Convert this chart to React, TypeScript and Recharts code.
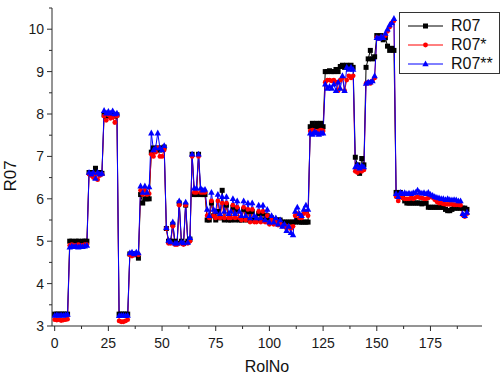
import { LineChart, Line, XAxis, YAxis } from "recharts";

// R07 (black squares)
const r07 = [
  3.28, 3.28, 3.28, 3.28, 3.28, 3.28, 3.28,
  5.0, 5.0, 4.98, 5.0, 5.0, 4.98, 5.0, 5.0, 5.0,
  6.62, 6.6, 6.62, 6.72, 6.6, 6.62, 6.6,
  7.98, 7.95, 8.0, 7.95, 7.98, 7.95, 7.98,
  3.28, 3.28, 3.28, 3.28, 3.28,
  4.7, 4.7, 4.7, 4.68, 4.6,
  6.1, 5.9, 6.0, 6.0, 6.0,
  7.1, 7.2, 7.15, 7.2, 7.15, 7.2, 7.22,
  5.3,
  5.0, 5.0, 5.4, 5.0, 4.95, 5.9, 5.0, 4.95, 5.85, 5.0, 5.05,
  7.05, 6.1, 6.1, 7.05, 6.1, 6.1, 6.1,
  5.5, 5.5, 5.9, 5.6, 5.5, 5.7, 5.55, 6.2, 5.5, 5.85,
  5.5, 5.5, 5.8, 5.5, 5.75, 5.5, 5.5, 5.75, 5.5, 5.7,
  5.5, 5.7, 5.5, 5.5, 5.65, 5.5, 5.65, 5.5, 5.6, 5.55,
  5.55, 5.5, 5.5, 5.5, 5.5, 5.45, 5.45, 5.45, 5.45, 5.45,
  5.45, 5.45, 5.5, 5.45, 5.45, 5.45, 5.45, 5.45,
  7.7, 7.78, 7.7, 7.78, 7.7, 7.78, 7.7,
  9.0, 9.0, 9.02, 9.0, 9.0, 9.05, 9.0, 9.12, 9.15, 9.1, 9.15, 9.12, 9.15, 9.1,
  6.98, 6.8, 6.6, 6.95, 6.8,
  9.1, 9.3, 9.5, 9.3, 9.35,
  9.85, 9.8, 9.85, 9.75, 9.8, 9.6, 9.5, 9.55, 9.5,
  6.15, 6.1, 6.15, 6.05, 5.95, 5.9, 5.9, 5.9, 5.9, 5.9,
  5.9, 5.9, 5.88, 5.9, 5.9, 5.8, 5.8, 5.8, 5.8, 5.8,
  5.8, 5.8, 5.8, 5.75, 5.72, 5.72, 5.75, 5.78, 5.78, 5.78,
  5.78, 5.78, 5.78, 5.75,
];

// R07* (red circles)
const r07s = [
  3.15, 3.14, 3.15, 3.13, 3.14, 3.15, 3.16,
  4.9, 4.92, 4.9, 4.9, 4.92, 4.9, 4.9, 4.92, 4.92,
  6.58, 6.55, 6.5, 6.58, 6.45, 6.55, 6.58,
  7.95, 7.85, 7.98, 7.9, 7.92, 7.8, 7.95,
  3.12, 3.1, 3.1, 3.12, 3.15,
  4.68, 4.65, 4.68, 4.7, 4.68,
  6.2, 6.1, 6.2, 6.1, 6.12,
  7.05, 7.0, 7.1, 7.2, 7.0, 7.0, 7.15,
  5.3,
  4.95, 4.95, 5.35, 4.92, 4.92, 5.85, 4.95, 4.92, 5.85, 4.95, 5.0,
  7.0, 6.15, 6.15, 7.0, 6.15, 6.15, 6.15,
  5.6, 5.55, 5.95, 5.6, 5.55, 5.95, 5.55, 5.9, 5.55, 5.9,
  5.55, 5.55, 5.85, 5.55, 5.8, 5.55, 5.5, 5.8, 5.5, 5.75,
  5.45, 5.75, 5.45, 5.45, 5.7, 5.45, 5.7, 5.45, 5.6, 5.4,
  5.5, 5.4, 5.45, 5.38, 5.42, 5.35, 5.38, 5.3, 5.35, 5.3,
  5.35, 5.6, 5.65, 5.55, 5.55, 5.65, 5.7, 5.6,
  7.6, 7.62, 7.6, 7.58, 7.6, 7.62, 7.6,
  8.75, 8.8, 8.8, 8.78, 8.8, 8.75, 8.55, 8.8, 8.85, 8.55, 8.8, 8.9, 8.85, 8.9,
  6.65, 6.62, 6.7, 6.65, 6.68,
  8.72, 8.75, 8.72, 8.78, 8.85,
  9.8, 9.78, 9.8, 9.82, 9.85, 9.95, 10.05, 10.15, 10.2,
  6.05, 5.95, 6.05, 6.02, 6.0, 6.0, 6.0, 6.02, 6.0, 6.03,
  6.05, 6.03, 6.02, 6.0, 6.0, 6.02, 6.05, 6.03, 5.98, 5.93,
  5.9, 5.9, 5.88, 5.87, 5.87, 5.87, 5.87, 5.86, 5.86, 5.86,
  5.85, 5.62, 5.58, 5.65,
];

// R07** (blue triangles)
const r07ss = [
  3.25, 3.26, 3.25, 3.26, 3.25, 3.26, 3.27,
  4.86, 4.88, 4.87, 4.88, 4.86, 4.88, 4.87, 4.88, 4.9,
  6.62, 6.58, 6.62, 6.48, 6.62, 6.58, 6.6,
  8.08, 8.02, 8.06, 8.02, 8.07, 8.0, 8.02,
  3.24, 3.25, 3.25, 3.24, 3.25,
  4.72, 4.74, 4.7, 4.74, 4.72,
  6.3, 6.15, 6.3, 6.15, 6.28,
  7.55, 7.15, 7.2, 7.55, 7.2, 7.15, 7.25,
  5.32,
  5.02, 4.98, 5.45, 4.95, 4.95, 5.95, 4.98, 4.96, 5.92, 4.97, 5.08,
  7.05, 6.25, 6.25, 7.05, 6.25, 6.2, 6.22,
  5.75, 5.6, 6.15, 5.75, 5.7, 6.1, 5.65, 6.05, 5.7, 6.05,
  5.65, 5.7, 6.0, 5.65, 5.95, 5.7, 5.6, 5.95, 5.6, 5.9,
  5.55, 5.9, 5.6, 5.55, 5.85, 5.55, 5.85, 5.5, 5.75, 5.45,
  5.6, 5.45, 5.55, 5.4, 5.5, 5.35, 5.4, 5.25, 5.35, 5.2,
  5.15, 5.7, 5.8, 5.65, 5.6, 5.75, 5.85, 5.75,
  7.55, 7.52, 7.58, 7.55, 7.52, 7.55, 7.55,
  8.7, 8.6, 8.65, 8.6, 8.7, 8.55, 8.75, 8.6, 8.9, 8.55, 9.1, 9.05, 9.1, 9.05,
  6.75, 6.8, 6.72, 6.78, 6.75,
  8.72, 8.75, 8.75, 8.78, 8.9,
  9.8, 9.78, 9.82, 9.8, 9.9, 10.0, 10.1, 10.15, 10.25,
  6.12, 6.05, 6.15, 6.12, 6.14, 6.12, 6.13, 6.12, 6.14, 6.15,
  6.2, 6.15, 6.13, 6.14, 6.12, 6.15, 6.1, 6.08, 6.05, 6.03,
  6.02, 6.0, 6.0, 5.98, 6.0, 5.98, 5.97, 5.98, 5.97, 5.95,
  5.95, 5.65, 5.6, 5.68,
];

const xTicks = [0, 12.5, 25, 37.5, 50, 62.5, 75, 87.5, 100, 112.5, 125, 137.5, 150, 162.5, 175, 187.5];
const yTicks = [3, 3.5, 4, 4.5, 5, 5.5, 6, 6.5, 7, 7.5, 8, 8.5, 9, 9.5, 10, 10.5];

const FONT = '"Liberation Sans", Arial, sans-serif';
const AXIS = "#2a2a2a";

const data = r07.map((v, i) => ({ x: i, r07: v, r07s: r07s[i], r07ss: r07ss[i] }));

function XTick({ x, y, payload }: any) {
  const major = payload.value % 25 === 0;
  return (
    <g>
      <line x1={x} x2={x} y1={y} y2={y + (major ? 5 : 3)} stroke={AXIS} />
      {major && (
        <text x={x} y={y + 22} textAnchor="middle" fontSize={14} fill="#1a1a1a" style={{ fontFamily: FONT }}>
          {payload.value}
        </text>
      )}
    </g>
  );
}

function YTick({ x, y, payload }: any) {
  const major = payload.value % 1 === 0;
  return (
    <g>
      <line x1={x} x2={x - (major ? 5 : 3)} y1={y} y2={y} stroke={AXIS} />
      {major && (
        <text x={x - 8} y={y + 5} textAnchor="end" fontSize={14} fill="#1a1a1a" style={{ fontFamily: FONT }}>
          {payload.value}
        </text>
      )}
    </g>
  );
}

const square = (p: any) => (
  <rect key={`k${p.index}`} x={p.cx - 2.5} y={p.cy - 2.5} width={5} height={5} fill="#000" />
);
const circle = (p: any) => <circle key={`r${p.index}`} cx={p.cx} cy={p.cy} r={2.4} fill="#ff0000" />;
const triangle = (p: any) => (
  <path key={`b${p.index}`} d={`M${p.cx},${p.cy - 3.5}L${p.cx + 3.2},${p.cy + 2.3}L${p.cx - 3.2},${p.cy + 2.3}Z`} fill="#0000ff" />
);

const legendRows = [
  { name: "R07", color: "#000", mark: <rect x={15} y={-2.5} width={5} height={5} fill="#000" /> },
  { name: "R07*", color: "#ff0000", mark: <circle cx={17.5} cy={0} r={2.4} fill="#ff0000" /> },
  { name: "R07**", color: "#0000ff", mark: <path d="M17.5,-3.5L20.7,2.3L14.3,2.3Z" fill="#0000ff" /> },
];

function LegendBox() {
  return (
    <div
      style={{
        position: "absolute",
        left: 399,
        top: 12,
        border: "1px solid #333",
        background: "#fff",
        width: 101,
        height: 62,
        boxSizing: "border-box",
        padding: "3px 0 0 8px",
        fontFamily: FONT,
      }}
    >
      {legendRows.map((r) => (
        <div key={r.name} style={{ display: "flex", alignItems: "center", height: 19 }}>
          <svg width={36} height={10} style={{ overflow: "visible" }}>
            <g transform="translate(0,5)">
              <line x1={0} x2={35} y1={0} y2={0} stroke={r.color} strokeWidth={1} />
              {r.mark}
            </g>
          </svg>
          <span style={{ fontSize: 16, color: "#111", marginLeft: 7, lineHeight: "19px" }}>{r.name}</span>
        </div>
      ))}
    </div>
  );
}

export default function App() {
  return (
    <div style={{ position: "absolute", left: 0, top: 0, width: 503, height: 378, background: "#fff" }}>
      <LineChart width={503} height={378} data={data} margin={{ top: 8, right: 21, left: 0, bottom: 0 }}>
        <XAxis
          dataKey="x"
          type="number"
          domain={[-1.25, 199]}
          allowDataOverflow
          ticks={xTicks}
          tick={<XTick />}
          tickLine={false}
          tickSize={0}
          tickMargin={0}
          height={52}
          stroke={AXIS}
          interval={0}
        />
        <YAxis
          type="number"
          domain={[3, 10.5]}
          allowDataOverflow
          ticks={yTicks}
          tick={<YTick />}
          tickLine={false}
          tickSize={0}
          tickMargin={0}
          width={52}
          stroke={AXIS}
          interval={0}
        />
        <Line dataKey="r07" stroke="#000" strokeWidth={1} dot={square} activeDot={false} isAnimationActive={false} />
        <Line dataKey="r07s" stroke="#ff0000" strokeWidth={1} dot={circle} activeDot={false} isAnimationActive={false} />
        <Line dataKey="r07ss" stroke="#0000ff" strokeWidth={1} dot={triangle} activeDot={false} isAnimationActive={false} />
      </LineChart>
      <LegendBox />
      <div
        style={{
          position: "absolute",
          left: 11,
          top: 176,
          transform: "translate(-50%, -50%) rotate(-90deg)",
          fontFamily: FONT,
          fontSize: 17,
          color: "#111",
          whiteSpace: "nowrap",
        }}
      >
        R07
      </div>
      <div
        style={{
          position: "absolute",
          left: 267,
          top: 367,
          transform: "translate(-50%, -50%)",
          fontFamily: FONT,
          fontSize: 16,
          color: "#111",
          whiteSpace: "nowrap",
        }}
      >
        RolNo
      </div>
    </div>
  );
}
